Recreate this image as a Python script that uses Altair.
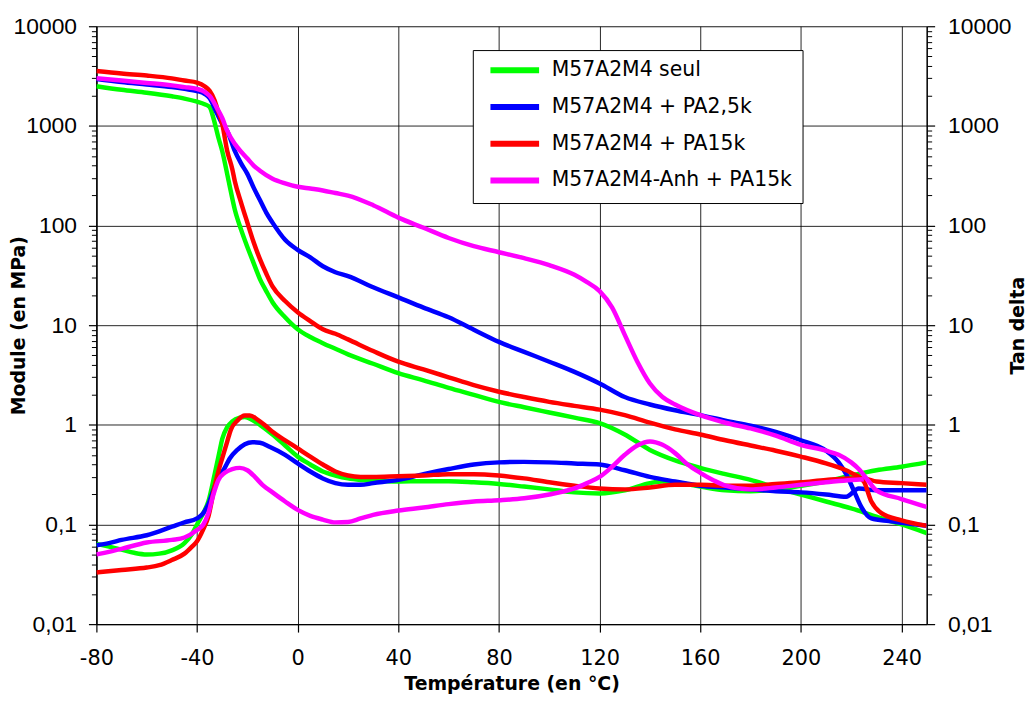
import altair as alt
import pandas as pd

# ---------------- data ----------------
series_names = ["M57A2M4 seul", "M57A2M4 + PA2,5k", "M57A2M4 + PA15k", "M57A2M4-Anh + PA15k"]
series_colors = ["#00ff00", "#0000ff", "#ff0000", "#ff00ff"]

# M57A2M4 seul (green)
green_mod_T = [-80, -70, -60, -50, -45, -40, -37, -35, -33.5, -31.5, -30, -27.5, -25, -22.5, -20, -17.5, -15, -12.5, -10, -5, 0, 5, 10, 15, 20, 30, 40, 50, 60, 70, 80, 90, 100, 110, 120, 130, 140, 150, 160, 170, 180, 190, 200, 210, 220, 230, 240, 250]
green_mod = [2500, 2300, 2150, 1980, 1880, 1750, 1650, 1550, 1200, 760, 560, 285, 145, 91, 61, 42, 29, 22, 17, 12, 9.1, 7.6, 6.6, 5.8, 5.1, 4.1, 3.3, 2.8, 2.35, 2.0, 1.7, 1.5, 1.33, 1.18, 1.04, 0.8, 0.56, 0.44, 0.37, 0.32, 0.28, 0.235, 0.2, 0.17, 0.145, 0.12, 0.1, 0.082]
green_tan_T = [-80, -75, -70, -65, -60, -55, -50, -45, -42, -40, -37.5, -35.5, -33, -31, -30, -28, -26, -23, -21, -18, -15, -10, -5, 0, 5, 10, 15, 20, 25, 30, 40, 50, 60, 70, 80, 90, 100, 110, 120, 130, 140, 145, 150, 160, 170, 180, 190, 200, 210, 220, 230, 240, 250]
green_tan = [0.064, 0.06, 0.056, 0.052, 0.05, 0.051, 0.055, 0.065, 0.08, 0.1, 0.13, 0.17, 0.32, 0.55, 0.72, 0.95, 1.08, 1.18, 1.2, 1.12, 1.0, 0.8, 0.62, 0.48, 0.4, 0.34, 0.31, 0.29, 0.28, 0.275, 0.27, 0.272, 0.272, 0.265, 0.255, 0.24, 0.225, 0.21, 0.205, 0.22, 0.26, 0.27, 0.265, 0.24, 0.22, 0.215, 0.225, 0.245, 0.27, 0.31, 0.35, 0.38, 0.42]

# M57A2M4 + PA2,5k (blue)
blue_mod_T = [-80, -70, -60, -50, -45, -40, -37, -35, -32, -30, -28, -25, -22.5, -20, -17.5, -15, -12.5, -10, -5, 0, 5, 10, 15, 20, 30, 40, 50, 60, 70, 80, 90, 100, 110, 120, 130, 140, 150, 160, 170, 180, 190, 200, 210, 215, 218, 221, 224, 228, 235, 240, 250]
blue_mod = [2950, 2750, 2600, 2450, 2350, 2240, 2100, 1900, 1320, 1050, 890, 560, 420, 330, 240, 180, 135, 107, 72, 57, 48, 39, 34, 31, 24, 19, 15, 12, 9, 6.8, 5.4, 4.3, 3.4, 2.6, 1.9, 1.6, 1.4, 1.25, 1.1, 0.98, 0.85, 0.7, 0.55, 0.42, 0.32, 0.22, 0.15, 0.115, 0.108, 0.104, 0.097]
blue_tan_T = [-80, -75, -70, -60, -50, -45, -40, -37.5, -35.5, -33, -31, -29, -27, -24, -21, -18, -15, -11, -5, 0, 5, 10, 15, 20, 25, 30, 40, 50, 60, 70, 80, 90, 100, 110, 120, 130, 140, 150, 160, 170, 180, 190, 200, 210, 218, 223, 230, 240, 250]
blue_tan = [0.062, 0.065, 0.07, 0.078, 0.095, 0.105, 0.115, 0.13, 0.16, 0.24, 0.31, 0.37, 0.46, 0.56, 0.64, 0.67, 0.66, 0.6, 0.5, 0.41, 0.34, 0.29, 0.26, 0.25, 0.25, 0.26, 0.28, 0.32, 0.36, 0.4, 0.42, 0.425, 0.42, 0.41, 0.4, 0.35, 0.3, 0.27, 0.245, 0.235, 0.225, 0.215, 0.21, 0.2, 0.19, 0.23, 0.22, 0.22, 0.22]

# M57A2M4 + PA15k (red)
red_mod_T = [-80, -70, -60, -50, -45, -40, -37, -35, -33, -32, -30, -28, -26, -25, -22.5, -20, -17.5, -15, -12.5, -10, -5, 0, 5, 10, 15, 20, 30, 40, 50, 60, 70, 80, 90, 100, 110, 120, 130, 140, 150, 160, 170, 180, 190, 200, 210, 220, 225, 228, 232, 240, 250]
red_mod = [3550, 3350, 3200, 3000, 2850, 2720, 2500, 2250, 1800, 1500, 1050, 560, 370, 280, 170, 107, 68, 46, 33, 24.5, 17.5, 13.5, 11, 9.1, 8.2, 7.2, 5.5, 4.3, 3.6, 3.0, 2.5, 2.15, 1.9, 1.7, 1.55, 1.42, 1.25, 1.05, 0.9, 0.8, 0.7, 0.62, 0.55, 0.48, 0.41, 0.33, 0.27, 0.17, 0.13, 0.11, 0.097]
red_tan_T = [-80, -70, -60, -55, -50, -45, -42, -40, -37.5, -35.5, -33, -31, -30, -28, -26.5, -24, -21, -19, -16, -13, -10, -5, 0, 5, 10, 15, 20, 25, 30, 40, 50, 60, 70, 80, 90, 100, 110, 120, 130, 140, 150, 160, 170, 180, 190, 200, 210, 220, 225, 230, 240, 250]
red_tan = [0.033, 0.035, 0.037, 0.039, 0.044, 0.051, 0.06, 0.068, 0.09, 0.12, 0.24, 0.38, 0.46, 0.68, 0.9, 1.1, 1.24, 1.24, 1.13, 0.99, 0.85, 0.7, 0.58, 0.48, 0.4, 0.34, 0.31, 0.3, 0.3, 0.305, 0.31, 0.32, 0.32, 0.31, 0.29, 0.265, 0.245, 0.23, 0.225, 0.235, 0.25, 0.25, 0.245, 0.245, 0.255, 0.265, 0.28, 0.29, 0.29, 0.27, 0.26, 0.25]

# M57A2M4-Anh + PA15k (magenta)
mag_mod_T = [-80, -70, -60, -50, -45, -40, -37, -35, -32, -30, -28, -25, -22.5, -20, -17.5, -15, -10, -5, 0, 5, 10, 15, 20, 30, 40, 50, 60, 70, 80, 90, 100, 110, 115, 120, 125, 130, 135, 140, 145, 150, 160, 170, 180, 190, 200, 210, 215, 220, 223, 227, 230, 240, 250]
mag_mod = [3000, 2850, 2700, 2550, 2450, 2350, 2200, 2000, 1500, 1200, 890, 660, 550, 470, 400, 355, 295, 265, 245, 235, 225, 212, 200, 160, 120, 95, 75, 62, 54, 47, 40, 32, 27, 22, 15, 8, 4.3, 2.6, 1.9, 1.6, 1.25, 1.05, 0.92, 0.78, 0.63, 0.55, 0.5, 0.42, 0.36, 0.27, 0.22, 0.18, 0.15]
mag_tan_T = [-80, -70, -60, -50, -45, -40, -37.5, -35.5, -33.5, -31.5, -29, -26, -23, -20, -17, -14, -10, -5, 0, 5, 10, 15, 20, 25, 30, 40, 50, 60, 70, 80, 90, 100, 110, 115, 120, 125, 130, 135, 140, 145, 150, 155, 160, 165, 170, 180, 190, 200, 210, 220, 225]
mag_tan = [0.05, 0.057, 0.066, 0.07, 0.074, 0.088, 0.1, 0.13, 0.2, 0.28, 0.33, 0.36, 0.37, 0.35, 0.3, 0.25, 0.21, 0.17, 0.14, 0.122, 0.112, 0.105, 0.106, 0.115, 0.125, 0.138, 0.148, 0.16, 0.17, 0.175, 0.183, 0.2, 0.23, 0.26, 0.3, 0.38, 0.5, 0.62, 0.68, 0.63, 0.52, 0.4, 0.33, 0.28, 0.245, 0.225, 0.235, 0.25, 0.265, 0.28, 0.285]

y_major = [0.01, 0.1, 1, 10, 100, 1000, 10000]
y_minor = [m * 10 ** k for k in range(-2, 4) for m in range(2, 10)]
x_ticks = [-80, -40, 0, 40, 80, 120, 160, 200, 240]

# ---------------- table ----------------
curves = [
    (series_names[0], "mod", green_mod_T, green_mod), (series_names[0], "tan", green_tan_T, green_tan),
    (series_names[1], "mod", blue_mod_T, blue_mod), (series_names[1], "tan", blue_tan_T, blue_tan),
    (series_names[2], "mod", red_mod_T, red_mod), (series_names[2], "tan", red_tan_T, red_tan),
    (series_names[3], "mod", mag_mod_T, mag_mod), (series_names[3], "tan", mag_tan_T, mag_tan),
]
rows = []
for name, kind, ts, vs in curves:
    for t, v in zip(ts, vs):
        rows.append({"series": name, "kind": kind, "T": t, "value": v})
df = pd.DataFrame(rows)

# ---------------- scales / encodings ----------------
yscale = alt.Scale(type="log", domain=[0.01, 10000], nice=False)
xscale = alt.Scale(domain=[-80, 250], nice=False, zero=False)
cscale = alt.Scale(domain=series_names, range=series_colors)

x_enc = alt.X(
    "T:Q", scale=xscale,
    axis=alt.Axis(
        values=x_ticks, title="Température (en °C)", grid=True, gridColor="#000000", gridOpacity=0.85,
        tickSize=8, tickColor="#000000", tickWidth=1.2, domainColor="#000000", domainWidth=1.5,
        labelFont="DejaVu Sans", labelFontSize=21, labelColor="#000000", labelPadding=16,
        labelExpr="replace(datum.label, '\u2212', '-')",
        titleFont="DejaVu Sans", titleFontWeight="bold", titleFontSize=19, titleColor="#000000",
        titlePadding=6, labelFlush=False,
    ),
)

legend = alt.Legend(
    title=None, orient="none", legendX=379, legendY=24, direction="vertical",
    symbolType="M-4,0H4", symbolSize=150, symbolStrokeWidth=6, symbolOffset=22,
    labelFont="DejaVu Sans", labelFontSize=20.5, labelColor="#000000", labelOffset=27,
    rowPadding=12, padding=10, fillColor="#ffffff", strokeColor="#000000", labelLimit=400,
)

layers = []
for name in series_names:
    layers.append(
        alt.Chart(df[df["series"] == name])
        .mark_line(strokeWidth=4.5, clip=True, interpolate="monotone")
        .encode(
            x=x_enc,
            y=alt.Y("value:Q", scale=yscale, axis=None),
            color=alt.Color("series:N", scale=cscale, legend=legend),
            detail="kind:N",
        )
    )

label_expr = "replace(datum.label, '.', ',')"
ax_left = alt.Chart(pd.DataFrame({"v": y_major})).mark_point(opacity=0).encode(
    y=alt.Y("v:Q", scale=yscale, axis=alt.Axis(
        orient="left", values=y_major, format="~g", labelExpr=label_expr,
        grid=True, gridColor="#000000", gridOpacity=0.85,
        tickSize=8, tickColor="#000000", tickWidth=1.2, domainColor="#000000", domainWidth=1.5,
        labelFont="Liberation Sans", labelFontSize=23, labelColor="#000000", labelPadding=12,
        title="Module (en MPa)", titleFont="DejaVu Sans", titleFontWeight="bold", titleFontSize=19,
        titleColor="#000000", titleX=-78, titleY=301, titleBaseline="middle", titleAlign="center",
        titleAngle=270,
    ))
)
ax_left_minor = alt.Chart(pd.DataFrame({"v": y_minor})).mark_point(opacity=0).encode(
    y=alt.Y("v:Q", scale=yscale, axis=alt.Axis(
        orient="left", values=y_minor, labels=False, grid=False, domain=False,
        tickSize=5, tickColor="#000000", tickWidth=1, title=None,
    ))
)
ax_right = alt.Chart(pd.DataFrame({"v": y_major})).mark_point(opacity=0).encode(
    y=alt.Y("v:Q", scale=yscale, axis=alt.Axis(
        orient="right", values=y_major, format="~g", labelExpr=label_expr, grid=False,
        tickSize=8, tickColor="#000000", tickWidth=1.2, domainColor="#000000", domainWidth=1.5,
        labelFont="Liberation Sans", labelFontSize=23, labelColor="#000000", labelPadding=13,
        title="Tan delta", titleFont="DejaVu Sans", titleFontWeight="bold", titleFontSize=19,
        titleColor="#000000", titleX=91, titleY=301, titleBaseline="middle", titleAlign="center",
        titleAngle=270,
    ))
)
ax_right_minor = alt.Chart(pd.DataFrame({"v": y_minor})).mark_point(opacity=0).encode(
    y=alt.Y("v:Q", scale=yscale, axis=alt.Axis(
        orient="right", values=y_minor, labels=False, grid=False, domain=False,
        tickSize=5, tickColor="#000000", tickWidth=1, title=None,
    ))
)

chart = (
    alt.layer(ax_left, ax_left_minor, ax_right, ax_right_minor, *layers)
    .resolve_axis(y="independent")
    .properties(width=836, height=602, padding={"left": 2, "top": 5, "right": 0, "bottom": 0})
    .configure_view(stroke="#000000", strokeWidth=1.5)
    .configure(background="#ffffff")
)

chart.save("out.html", embed_options={"renderer": "svg", "actions": False})
